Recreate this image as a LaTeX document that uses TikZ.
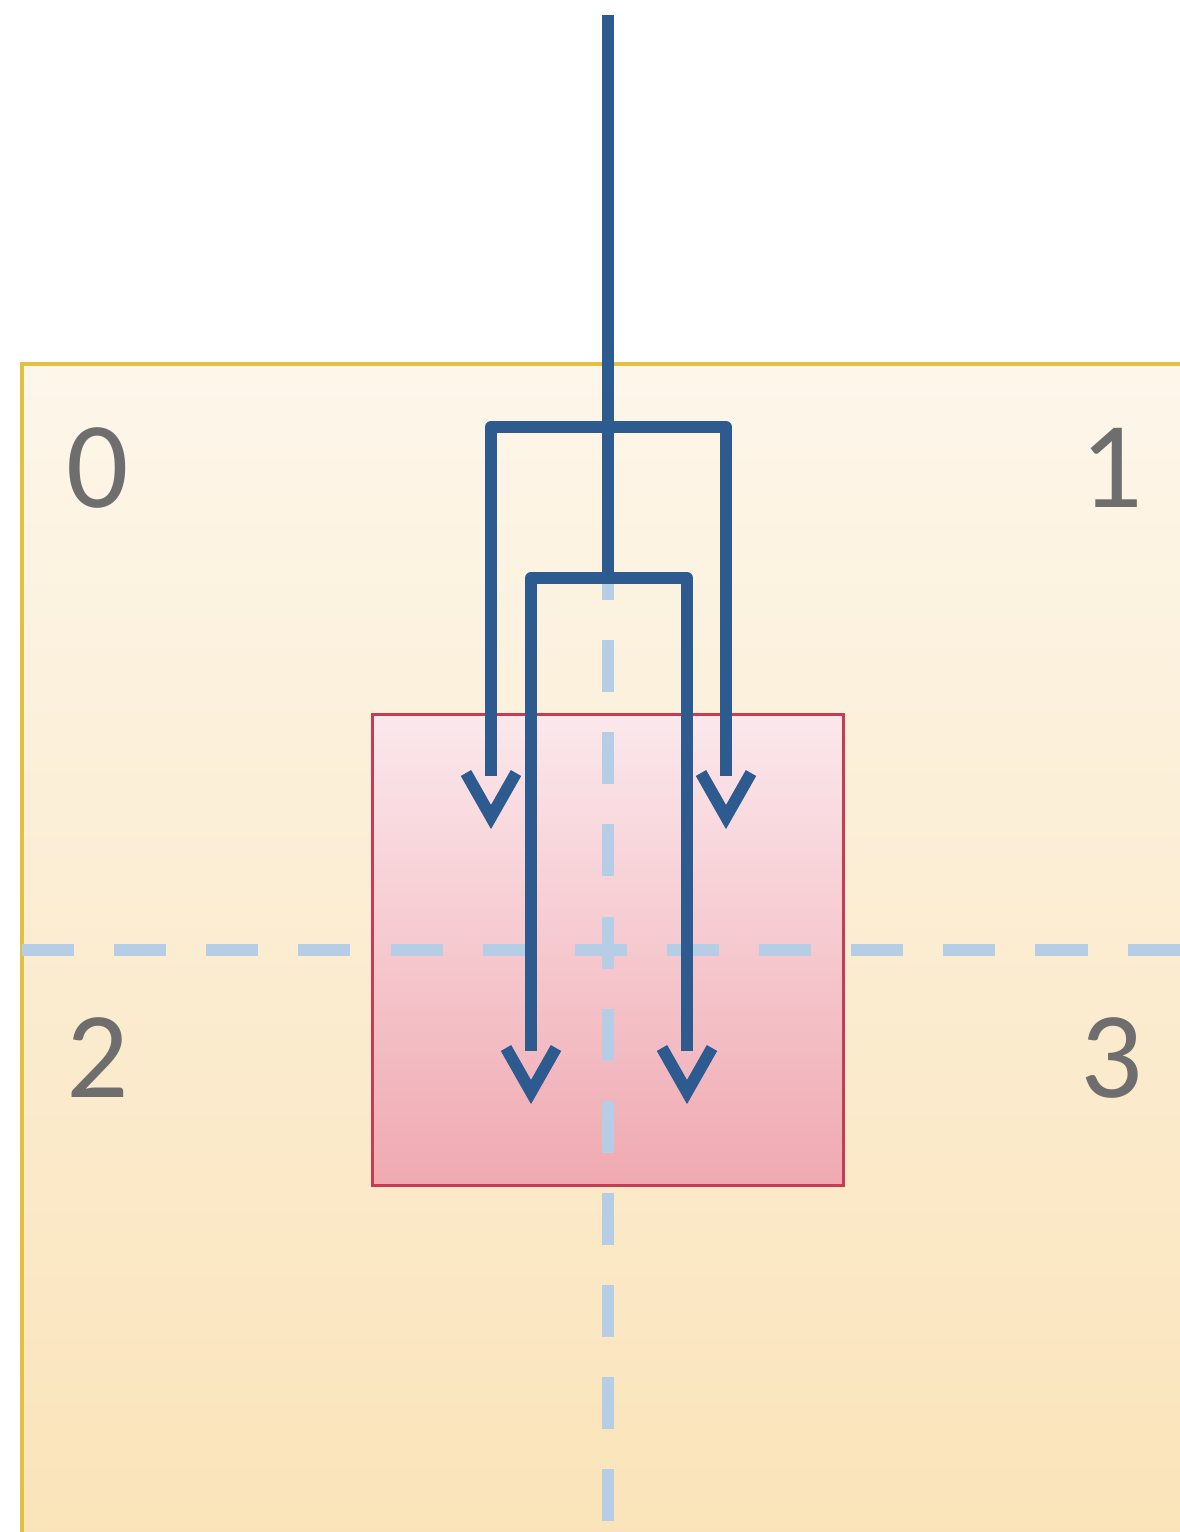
\documentclass[tikz,border=0pt]{standalone}
\usepackage{fontspec}
\setmainfont{Carlito}
\usetikzlibrary{arrows.meta,positioning,calc}
\definecolor{wireblue}{HTML}{2E5B8F}
\definecolor{gridblue}{HTML}{B5CDE5}
\definecolor{gold}{HTML}{E3C043}
\definecolor{creamtop}{HTML}{FDF6EA}
\definecolor{creambot}{HTML}{FAE3B8}
\definecolor{crimson}{HTML}{C63C54}
\definecolor{pinktop}{HTML}{FBE8EC}
\definecolor{pinkbot}{HTML}{F0A9B1}
\definecolor{digit}{HTML}{6E6E6E}
\tikzset{quad/.style={font=\fontsize{35}{40}\selectfont,text=digit,inner sep=0pt},
  cell/.style={draw=crimson,line width=0.9pt,top color=pinktop,bottom color=pinkbot,
  minimum width=4.7cm,minimum height=4.7cm,inner sep=0pt},
  split/.style={draw=gridblue,line width=3.4pt,dash pattern=on 14.8pt off 11.4pt},
  wire/.style={draw=wireblue,line width=3.4pt,line join=round},
  barb/.pic={\draw[wire,line join=miter] (-25,-3) -- (0,41) -- (25,-3);}}
\begin{document}
\begin{tikzpicture}[x=0.01cm,y=-0.01cm]
\clip (0,0) rectangle (1180,1532);
% quadrant area
\path[draw=gold,line width=1.1pt,top color=creamtop,bottom color=creambot]
  (22,364) rectangle (1200,1560);
\node[cell] (cell) at (608,950) {};
\draw[split] (22,950) -- (1180,950);
\draw[split] (608,548) -- (608,1532);
\node[quad] (q0) at (98,468) {0};
\node[quad] (q1) at (1112,468) {1};
\node[quad] (q2) at (98,1058) {2};
\node[quad] (q3) at (1112,1058) {3};
% branches
\coordinate (top) at (608,15);
\coordinate (fork1) at (608,427);
\coordinate (fork2) at (608,578);
\coordinate (a0) at (491,776);
\coordinate (a1) at (726,776);
\coordinate (b0) at (531,1051);
\coordinate (b1) at (687,1051);
\draw[wire] (top)--(fork2);
\draw[wire] (fork1) -| (a0) pic{barb};\draw[wire] (fork1) -| (a1) pic{barb};
\draw[wire] (fork2) -| (b0) pic{barb};\draw[wire] (fork2) -| (b1) pic{barb};
\end{tikzpicture}
\end{document}
